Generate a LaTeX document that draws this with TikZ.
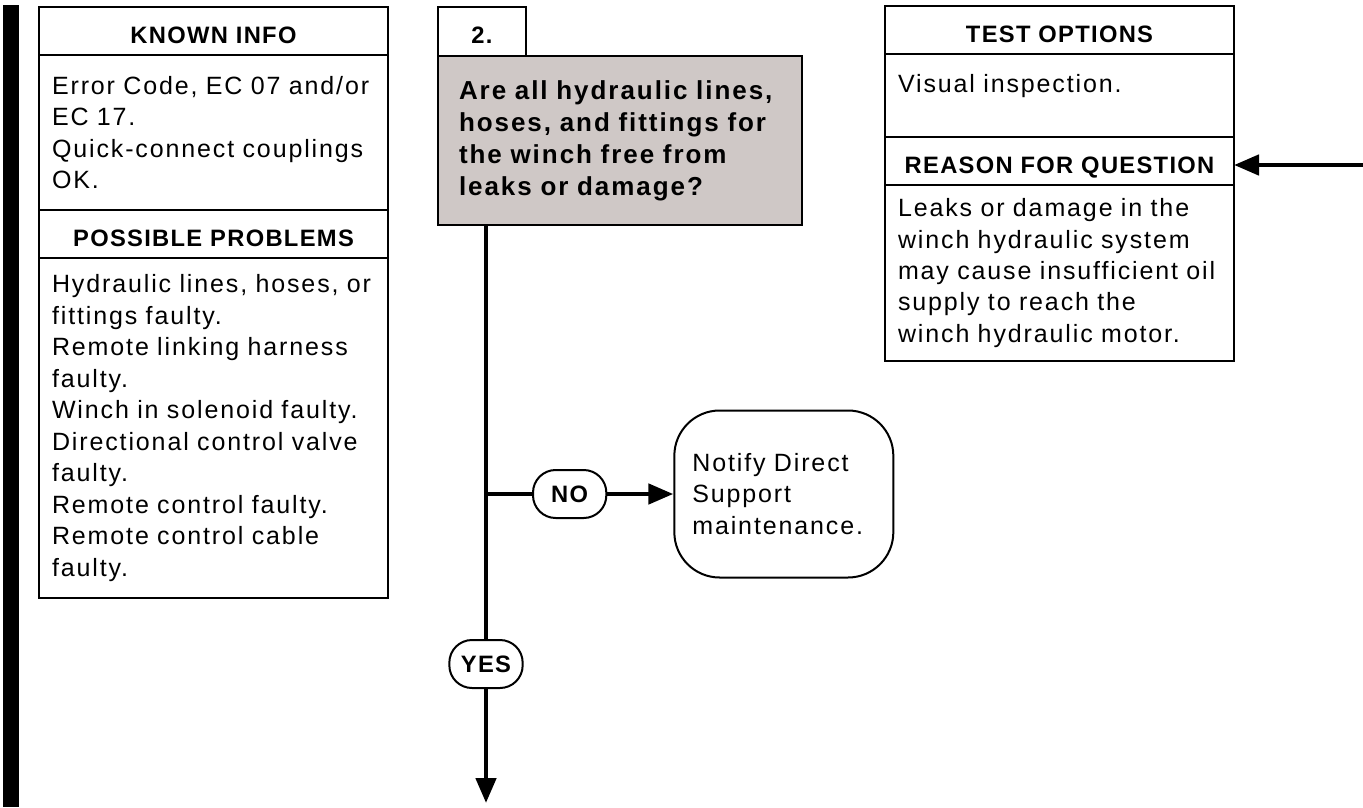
\documentclass[tikz,border=0pt]{standalone}
\usepackage{fontspec}
\setmainfont{Liberation Sans}[LetterSpace=7.5]
\newfontfamily\hdfont{Liberation Sans}[LetterSpace=5.5]
\usetikzlibrary{arrows.meta,positioning}
\definecolor{askgray}{HTML}{CFC8C6}

\begin{document}
\begin{tikzpicture}[x=0.75pt,y=-0.75pt,>={Triangle[length=18.75pt,width=15pt]},
 hd/.style={draw,line width=1.5pt,outer sep=0pt,minimum width=261.75pt,minimum height=36pt,inner sep=0pt,text height=18pt,text depth=0pt,font=\hdfont\fontsize{17.8pt}{20pt}\selectfont\bfseries},
 bd/.style={draw,line width=1.5pt,outer sep=0pt,inner xsep=9.75pt,inner ysep=0pt,text width=242.25pt,align=left,font=\fontsize{18.75pt}{23.6pt}\selectfont},
 pill/.style={draw,line width=1.5pt,rounded corners=17pt,minimum width=55pt,minimum height=36pt,inner sep=0pt,font=\hdfont\fontsize{17.8pt}{20pt}\selectfont\bfseries},
 flow/.style={line width=3.5pt}]
\useasboundingbox (0,0) rectangle (1363,807);
\fill (3,5) rectangle (19,807);
% left column
\node[hd,anchor=north west] (known) at (39,7) {KNOWN INFO};
\node[bd,below=0pt of known,minimum height=116.25pt] (knownbody) {Error Code, EC 07 and/or\\EC 17.\\Quick-connect couplings\\OK.};
\node[hd,below=0pt of knownbody] (probs) {POSSIBLE PROBLEMS};
\node[bd,below=0pt of probs,minimum height=255pt] (probsbody) {Hydraulic lines, hoses, or\\fittings faulty.\\Remote linking harness\\faulty.\\Winch in solenoid faulty.\\Directional control valve\\faulty.\\Remote control faulty.\\Remote control cable\\faulty.};
% question 2
\node[draw,line width=1.5pt,outer sep=0pt,fill=askgray,anchor=north west,minimum height=126.75pt,inner xsep=15.75pt,inner ysep=0pt,text width=241.5pt,align=left,font=\fontsize{19.5pt}{24pt}\selectfont\bfseries] (ask) at (438,56) {Are all hydraulic lines,\\hoses, and fittings for\\the winch free from\\leaks or damage?};
\node[draw,line width=1.5pt,outer sep=0pt,anchor=south west,minimum width=66pt,minimum height=36.75pt,inner sep=0pt,text height=18pt,text depth=0pt,font=\hdfont\fontsize{17.8pt}{20pt}\selectfont\bfseries] (num) at (ask.north west) {2.};
% right column
\node[hd,anchor=north west] (tests) at (885,6) {TEST OPTIONS};
\node[bd,below=0pt of tests,minimum height=62.25pt,text depth=18.75pt] (testsbody) {Visual inspection.};
\node[hd,below=0pt of testsbody] (reason) {REASON FOR QUESTION};
\node[bd,below=0pt of reason,minimum height=132pt] (reasonbody) {Leaks or damage in the\\winch hydraulic system\\may cause insufficient oil\\supply to reach the\\winch hydraulic motor.};
% flow
\coordinate (spine) at ([xshift=36pt]ask.south west);
\coordinate (fork) at (486,494);
\coordinate (down) at (486,803);
\coordinate (feed) at (1363,165);
\node[pill,right=34.5pt of fork] (no) {NO};
\node[pill,below=108.75pt of fork] (yes) {YES};
\node[draw,line width=1.5pt,rounded corners=34pt,right=49.5pt of no,minimum height=125.25pt,inner xsep=13.5pt,inner ysep=0pt,text width=137.25pt,align=left,font=\fontsize{18.75pt}{23.6pt}\selectfont] (notify) {Notify Direct\\Support\\maintenance.};
\draw[flow] (spine) -- (yes);
\draw[flow] (fork) -- (no);
\draw[flow,->] (no) -- (notify);
\draw[flow,->] (yes) -- (down);
\draw[flow,->] (feed) -- (feed -| reason.east);
\end{tikzpicture}
\end{document}
